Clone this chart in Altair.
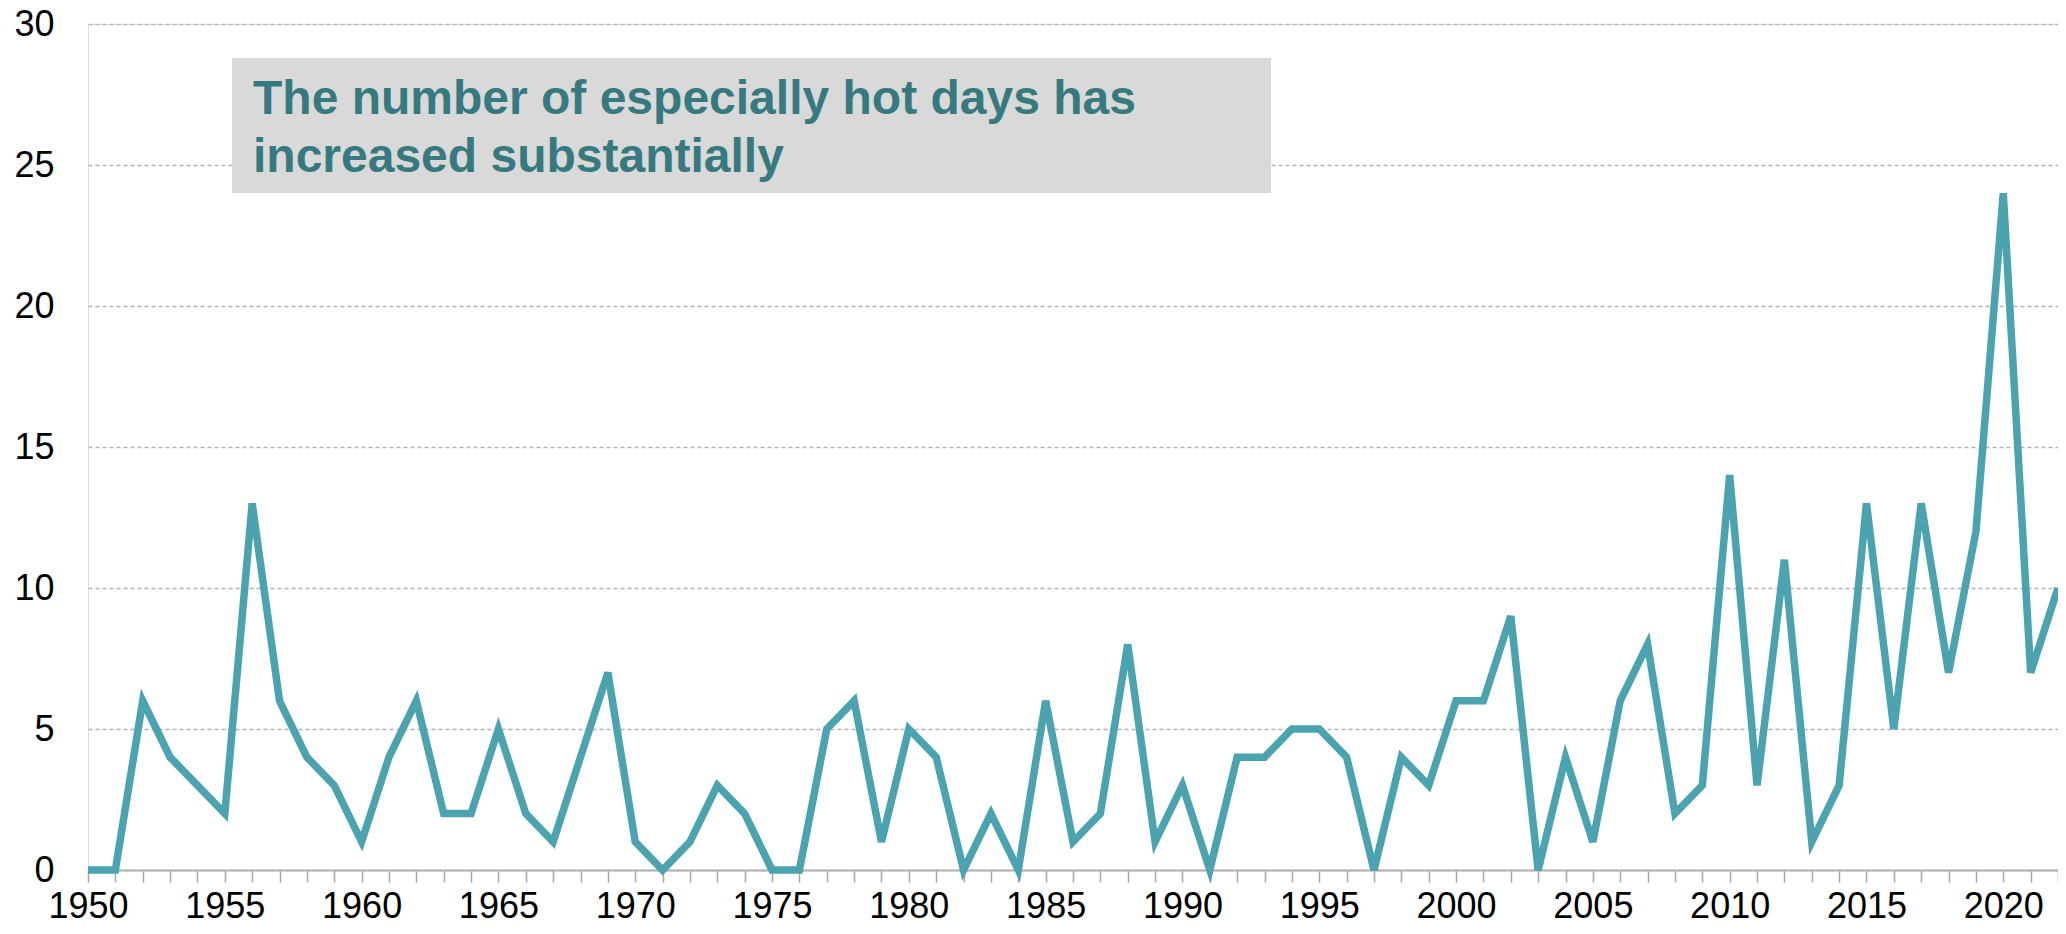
import altair as alt
import pandas as pd

years = list(range(1950, 2023))
hot_days = [0, 0, 6, 4, 3, 2, 13, 6, 4, 3,
            1, 4, 6, 2, 2, 5, 2, 1, 4, 7,
            1, 0, 1, 3, 2, 0, 0, 5, 6, 1,
            5, 4, 0, 2, 0, 6, 1, 2, 8, 1,
            3, 0, 4, 4, 5, 5, 4, 0, 4, 3,
            6, 6, 9, 0, 4, 1, 6, 8, 2, 3,
            14, 3, 11, 1, 3, 13, 5, 13, 7, 12,
            24, 7, 10]
y_ticks = [0, 5, 10, 15, 20, 25, 30]
title_lines = ["The number of especially hot days has", "increased substantially"]

df = pd.DataFrame({"year": years, "days": hot_days})

FONT = "Liberation Sans"

line = alt.Chart(df).mark_line(color="#4BA3AF", strokeWidth=7.5, clip=False).encode(
    x=alt.X("year:Q",
            scale=alt.Scale(domain=[1950, 2022], nice=False, zero=False),
            axis=alt.Axis(values=years, format="d",
                          labelExpr="datum.value % 5 == 0 ? datum.label : ''",
                          labelOverlap=False, labelFlush=False,
                          labelFontSize=36, labelFont=FONT, labelColor="#000000",
                          labelPadding=7,
                          tickSize=12, tickColor="#A6A6A6", tickWidth=1.5,
                          domainColor="#B0B0B0", domainWidth=2,
                          grid=False, title=None)),
    y=alt.Y("days:Q",
            scale=alt.Scale(domain=[0, 30], nice=False),
            axis=alt.Axis(values=y_ticks, labelFontSize=36, labelFont=FONT,
                          labelColor="#000000", labelPadding=34,
                          ticks=False, domain=False,
                          grid=True, gridColor="#B4B4B4", gridDash=[4, 3],
                          gridWidth=1.5, title=None)),
)

box_df = pd.DataFrame({"t": [0]})
box = alt.Chart(box_df).mark_rect(color="#D9D9D9").encode(
    x=alt.value(144), x2=alt.value(1183), y=alt.value(34), y2=alt.value(169)
)

text_df = pd.DataFrame({"label": ["\n".join(title_lines)]})
title = alt.Chart(text_df).mark_text(
    align="left", baseline="alphabetic", font=FONT, fontSize=48,
    fontWeight="bold", color="#367A80", lineBreak="\n", lineHeight=58
).encode(
    x=alt.value(165), y=alt.value(90), text="label:N"
)

chart = alt.layer(line, box, title).properties(
    width=1970, height=846,
    autosize=alt.AutoSizeParams(type="none"),
    padding={"left": 80, "top": 16, "right": 0, "bottom": 56},
).configure_view(stroke=None).configure(background="white")

chart.save("out.html", embed_options={"renderer": "svg", "actions": False})
